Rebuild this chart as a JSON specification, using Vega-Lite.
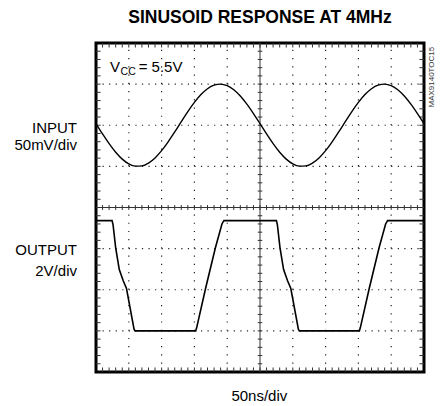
{
  "$schema": "https://vega.github.io/schema/vega-lite/v6.json",
  "width": 328,
  "height": 329,
  "autosize": "none",
  "padding": {"left": 96, "top": 43, "right": 17, "bottom": 34},
  "background": "white",
  "config": {
    "view": {"stroke": "black", "strokeWidth": 3},
    "text": {"font": "Liberation Sans, Arial, sans-serif", "color": "black"}
  },
  "datasets": {
    "input": [
      {"x": 0, "y": 6.038}, {"x": 0.2, "y": 5.788}, {"x": 0.4, "y": 5.552}, {"x": 0.6, "y": 5.343}, {"x": 0.8, "y": 5.176},
      {"x": 1.0, "y": 5.061}, {"x": 1.2, "y": 5.005}, {"x": 1.4, "y": 5.011}, {"x": 1.6, "y": 5.080}, {"x": 1.8, "y": 5.206},
      {"x": 2.0, "y": 5.382}, {"x": 2.2, "y": 5.597}, {"x": 2.4, "y": 5.837}, {"x": 2.6, "y": 6.088}, {"x": 2.8, "y": 6.333},
      {"x": 3.0, "y": 6.557}, {"x": 3.2, "y": 6.746}, {"x": 3.4, "y": 6.888}, {"x": 3.6, "y": 6.975}, {"x": 3.8, "y": 7.000},
      {"x": 4.0, "y": 6.962}, {"x": 4.2, "y": 6.864}, {"x": 4.4, "y": 6.712}, {"x": 4.6, "y": 6.514}, {"x": 4.8, "y": 6.285},
      {"x": 5.0, "y": 6.038}, {"x": 5.2, "y": 5.788}, {"x": 5.4, "y": 5.552}, {"x": 5.6, "y": 5.343}, {"x": 5.8, "y": 5.176},
      {"x": 6.0, "y": 5.061}, {"x": 6.2, "y": 5.005}, {"x": 6.4, "y": 5.011}, {"x": 6.6, "y": 5.080}, {"x": 6.8, "y": 5.206},
      {"x": 7.0, "y": 5.382}, {"x": 7.2, "y": 5.597}, {"x": 7.4, "y": 5.837}, {"x": 7.6, "y": 6.088}, {"x": 7.8, "y": 6.333},
      {"x": 8.0, "y": 6.557}, {"x": 8.2, "y": 6.746}, {"x": 8.4, "y": 6.888}, {"x": 8.6, "y": 6.975}, {"x": 8.8, "y": 7.000},
      {"x": 9.0, "y": 6.962}, {"x": 9.2, "y": 6.864}, {"x": 9.4, "y": 6.712}, {"x": 9.6, "y": 6.514}, {"x": 9.8, "y": 6.285},
      {"x": 10.0, "y": 6.038}
    ],
    "output": [
      {"x": 0, "y": 3.68}, {"x": 0.49, "y": 3.68}, {"x": 0.52, "y": 3.58}, {"x": 0.60, "y": 3.02}, {"x": 0.71, "y": 2.49},
      {"x": 0.83, "y": 2.22}, {"x": 0.93, "y": 2.03}, {"x": 1.16, "y": 1.04}, {"x": 1.19, "y": 1.0}, {"x": 3.04, "y": 1.0},
      {"x": 3.07, "y": 1.08}, {"x": 3.34, "y": 2.03}, {"x": 3.64, "y": 3.02}, {"x": 3.84, "y": 3.6}, {"x": 3.90, "y": 3.68},
      {"x": 5.50, "y": 3.68}, {"x": 5.53, "y": 3.58}, {"x": 5.61, "y": 3.02}, {"x": 5.72, "y": 2.49}, {"x": 5.84, "y": 2.22},
      {"x": 5.94, "y": 2.03}, {"x": 6.17, "y": 1.04}, {"x": 6.20, "y": 1.0}, {"x": 8.03, "y": 1.0}, {"x": 8.06, "y": 1.08},
      {"x": 8.33, "y": 2.03}, {"x": 8.63, "y": 3.02}, {"x": 8.83, "y": 3.6}, {"x": 8.89, "y": 3.68}, {"x": 10, "y": 3.68}
    ],
    "hgrid": [{"y": 1}, {"y": 2}, {"y": 3}, {"y": 5}, {"y": 6}, {"y": 7}],
    "vgrid": [{"x": 1}, {"x": 2}, {"x": 3}, {"x": 4}, {"x": 6}, {"x": 7}, {"x": 8}, {"x": 9}],
    "xticks": [
      {"x": 0.2}, {"x": 0.4}, {"x": 0.6}, {"x": 0.8}, {"x": 1}, {"x": 1.2}, {"x": 1.4}, {"x": 1.6}, {"x": 1.8}, {"x": 2},
      {"x": 2.2}, {"x": 2.4}, {"x": 2.6}, {"x": 2.8}, {"x": 3}, {"x": 3.2}, {"x": 3.4}, {"x": 3.6}, {"x": 3.8}, {"x": 4},
      {"x": 4.2}, {"x": 4.4}, {"x": 4.6}, {"x": 4.8}, {"x": 5}, {"x": 5.2}, {"x": 5.4}, {"x": 5.6}, {"x": 5.8}, {"x": 6},
      {"x": 6.2}, {"x": 6.4}, {"x": 6.6}, {"x": 6.8}, {"x": 7}, {"x": 7.2}, {"x": 7.4}, {"x": 7.6}, {"x": 7.8}, {"x": 8},
      {"x": 8.2}, {"x": 8.4}, {"x": 8.6}, {"x": 8.8}, {"x": 9}, {"x": 9.2}, {"x": 9.4}, {"x": 9.6}, {"x": 9.8}
    ],
    "yticks": [
      {"y": 0.2}, {"y": 0.4}, {"y": 0.6}, {"y": 0.8}, {"y": 1}, {"y": 1.2}, {"y": 1.4}, {"y": 1.6}, {"y": 1.8}, {"y": 2},
      {"y": 2.2}, {"y": 2.4}, {"y": 2.6}, {"y": 2.8}, {"y": 3}, {"y": 3.2}, {"y": 3.4}, {"y": 3.6}, {"y": 3.8}, {"y": 4},
      {"y": 4.2}, {"y": 4.4}, {"y": 4.6}, {"y": 4.8}, {"y": 5}, {"y": 5.2}, {"y": 5.4}, {"y": 5.6}, {"y": 5.8}, {"y": 6},
      {"y": 6.2}, {"y": 6.4}, {"y": 6.6}, {"y": 6.8}, {"y": 7}, {"y": 7.2}, {"y": 7.4}, {"y": 7.6}, {"y": 7.8}
    ],
    "one": [{}]
  },
  "layer": [
    {
      "data": {"name": "hgrid"},
      "mark": {"type": "rule", "stroke": "#222", "strokeWidth": 1.2, "strokeDash": [1.2, 5.36]},
      "encoding": {
        "y": {"field": "y", "type": "quantitative", "scale": {"domain": [0, 8], "nice": false}, "axis": null},
        "x": {"datum": 0, "type": "quantitative", "scale": {"domain": [0, 10], "nice": false}, "axis": null},
        "x2": {"datum": 10}
      }
    },
    {
      "data": {"name": "vgrid"},
      "mark": {"type": "rule", "stroke": "#222", "strokeWidth": 1.2, "strokeDash": [1.2, 7.03]},
      "encoding": {
        "x": {"field": "x", "type": "quantitative", "scale": {"domain": [0, 10], "nice": false}, "axis": null},
        "y": {"datum": 0, "type": "quantitative", "scale": {"domain": [0, 8], "nice": false}, "axis": null},
        "y2": {"datum": 8}
      }
    },
    {
      "data": {"name": "one"},
      "mark": {"type": "rule", "stroke": "#333", "strokeWidth": 1},
      "encoding": {
        "y": {"datum": 4, "type": "quantitative", "scale": {"domain": [0, 8], "nice": false}, "axis": null},
        "x": {"datum": 0, "type": "quantitative", "scale": {"domain": [0, 10], "nice": false}, "axis": null},
        "x2": {"datum": 10}
      }
    },
    {
      "data": {"name": "one"},
      "mark": {"type": "rule", "stroke": "#333", "strokeWidth": 1},
      "encoding": {
        "x": {"datum": 5, "type": "quantitative", "scale": {"domain": [0, 10], "nice": false}, "axis": null},
        "y": {"datum": 0, "type": "quantitative", "scale": {"domain": [0, 8], "nice": false}, "axis": null},
        "y2": {"datum": 8}
      }
    },
    {
      "data": {"name": "xticks"},
      "mark": {"type": "rule", "stroke": "#333", "strokeWidth": 1},
      "encoding": {
        "x": {"field": "x", "type": "quantitative", "scale": {"domain": [0, 10], "nice": false}, "axis": null},
        "y": {"datum": 3.94, "type": "quantitative", "scale": {"domain": [0, 8], "nice": false}, "axis": null},
        "y2": {"datum": 4.06}
      }
    },
    {
      "data": {"name": "yticks"},
      "mark": {"type": "rule", "stroke": "#333", "strokeWidth": 1},
      "encoding": {
        "y": {"field": "y", "type": "quantitative", "scale": {"domain": [0, 8], "nice": false}, "axis": null},
        "x": {"datum": 4.93, "type": "quantitative", "scale": {"domain": [0, 10], "nice": false}, "axis": null},
        "x2": {"datum": 5.07}
      }
    },
    {
      "data": {"name": "xticks"},
      "mark": {"type": "rule", "stroke": "#333", "strokeWidth": 1},
      "encoding": {
        "x": {"field": "x", "type": "quantitative", "scale": {"domain": [0, 10], "nice": false}, "axis": null},
        "y": {"datum": 0, "type": "quantitative", "scale": {"domain": [0, 8], "nice": false}, "axis": null},
        "y2": {"datum": 0.11}
      }
    },
    {
      "data": {"name": "xticks"},
      "mark": {"type": "rule", "stroke": "#333", "strokeWidth": 1},
      "encoding": {
        "x": {"field": "x", "type": "quantitative", "scale": {"domain": [0, 10], "nice": false}, "axis": null},
        "y": {"datum": 7.89, "type": "quantitative", "scale": {"domain": [0, 8], "nice": false}, "axis": null},
        "y2": {"datum": 8}
      }
    },
    {
      "data": {"name": "yticks"},
      "mark": {"type": "rule", "stroke": "#333", "strokeWidth": 1},
      "encoding": {
        "y": {"field": "y", "type": "quantitative", "scale": {"domain": [0, 8], "nice": false}, "axis": null},
        "x": {"datum": 0, "type": "quantitative", "scale": {"domain": [0, 10], "nice": false}, "axis": null},
        "x2": {"datum": 0.14}
      }
    },
    {
      "data": {"name": "yticks"},
      "mark": {"type": "rule", "stroke": "#333", "strokeWidth": 1},
      "encoding": {
        "y": {"field": "y", "type": "quantitative", "scale": {"domain": [0, 8], "nice": false}, "axis": null},
        "x": {"datum": 9.86, "type": "quantitative", "scale": {"domain": [0, 10], "nice": false}, "axis": null},
        "x2": {"datum": 10}
      }
    },
    {
      "data": {"name": "input"},
      "mark": {"type": "line", "stroke": "black", "strokeWidth": 1.4, "interpolate": "monotone"},
      "encoding": {
        "x": {"field": "x", "type": "quantitative", "scale": {"domain": [0, 10], "nice": false}, "axis": null},
        "y": {"field": "y", "type": "quantitative", "scale": {"domain": [0, 8], "nice": false}, "axis": null}
      }
    },
    {
      "data": {"name": "output"},
      "mark": {"type": "line", "stroke": "black", "strokeWidth": 1.6},
      "encoding": {
        "x": {"field": "x", "type": "quantitative", "scale": {"domain": [0, 10], "nice": false}, "axis": null},
        "y": {"field": "y", "type": "quantitative", "scale": {"domain": [0, 8], "nice": false}, "axis": null}
      }
    },
    {
      "data": {"name": "one"},
      "mark": {"type": "text", "text": "SINUSOID RESPONSE AT 4MHz", "fontSize": 17.5, "fontWeight": "bold", "align": "center", "baseline": "alphabetic"},
      "encoding": {
        "x": {"datum": 5, "type": "quantitative", "scale": {"domain": [0, 10], "nice": false}, "axis": null},
        "y": {"datum": 8.48, "type": "quantitative", "scale": {"domain": [0, 8], "nice": false}, "axis": null}
      }
    },
    {
      "data": {"name": "one"},
      "mark": {"type": "text", "text": "INPUT", "fontSize": 15, "align": "right", "baseline": "alphabetic"},
      "encoding": {
        "x": {"datum": -0.58, "type": "quantitative", "scale": {"domain": [0, 10], "nice": false}, "axis": null},
        "y": {"datum": 5.8, "type": "quantitative", "scale": {"domain": [0, 8], "nice": false}, "axis": null}
      }
    },
    {
      "data": {"name": "one"},
      "mark": {"type": "text", "text": "50mV/div", "fontSize": 15, "align": "right", "baseline": "alphabetic"},
      "encoding": {
        "x": {"datum": -0.58, "type": "quantitative", "scale": {"domain": [0, 10], "nice": false}, "axis": null},
        "y": {"datum": 5.4, "type": "quantitative", "scale": {"domain": [0, 8], "nice": false}, "axis": null}
      }
    },
    {
      "data": {"name": "one"},
      "mark": {"type": "text", "text": "OUTPUT", "fontSize": 15, "align": "right", "baseline": "alphabetic"},
      "encoding": {
        "x": {"datum": -0.58, "type": "quantitative", "scale": {"domain": [0, 10], "nice": false}, "axis": null},
        "y": {"datum": 2.85, "type": "quantitative", "scale": {"domain": [0, 8], "nice": false}, "axis": null}
      }
    },
    {
      "data": {"name": "one"},
      "mark": {"type": "text", "text": "2V/div", "fontSize": 15, "align": "right", "baseline": "alphabetic"},
      "encoding": {
        "x": {"datum": -0.58, "type": "quantitative", "scale": {"domain": [0, 10], "nice": false}, "axis": null},
        "y": {"datum": 2.33, "type": "quantitative", "scale": {"domain": [0, 8], "nice": false}, "axis": null}
      }
    },
    {
      "data": {"name": "one"},
      "mark": {"type": "text", "text": "50ns/div", "fontSize": 15, "align": "center", "baseline": "alphabetic"},
      "encoding": {
        "x": {"datum": 4.98, "type": "quantitative", "scale": {"domain": [0, 10], "nice": false}, "axis": null},
        "y": {"datum": -0.7, "type": "quantitative", "scale": {"domain": [0, 8], "nice": false}, "axis": null}
      }
    },
    {
      "data": {"name": "one"},
      "mark": {"type": "text", "text": "V", "fontSize": 15, "align": "left", "baseline": "alphabetic"},
      "encoding": {
        "x": {"datum": 0.43, "type": "quantitative", "scale": {"domain": [0, 10], "nice": false}, "axis": null},
        "y": {"datum": 7.29, "type": "quantitative", "scale": {"domain": [0, 8], "nice": false}, "axis": null}
      }
    },
    {
      "data": {"name": "one"},
      "mark": {"type": "text", "text": "CC", "fontSize": 10.5, "align": "left", "baseline": "alphabetic"},
      "encoding": {
        "x": {"datum": 0.75, "type": "quantitative", "scale": {"domain": [0, 10], "nice": false}, "axis": null},
        "y": {"datum": 7.22, "type": "quantitative", "scale": {"domain": [0, 8], "nice": false}, "axis": null}
      }
    },
    {
      "data": {"name": "one"},
      "mark": {"type": "text", "text": "= 5.5V", "fontSize": 15, "align": "left", "baseline": "alphabetic"},
      "encoding": {
        "x": {"datum": 1.3, "type": "quantitative", "scale": {"domain": [0, 10], "nice": false}, "axis": null},
        "y": {"datum": 7.29, "type": "quantitative", "scale": {"domain": [0, 8], "nice": false}, "axis": null}
      }
    },
    {
      "data": {"name": "one"},
      "mark": {"type": "text", "text": "MAX9140TOC15", "fontSize": 8, "angle": 270, "align": "center", "baseline": "middle", "color": "#333"},
      "encoding": {
        "x": {"datum": 10.24, "type": "quantitative", "scale": {"domain": [0, 10], "nice": false}, "axis": null},
        "y": {"datum": 7.17, "type": "quantitative", "scale": {"domain": [0, 8], "nice": false}, "axis": null}
      }
    }
  ]
}
